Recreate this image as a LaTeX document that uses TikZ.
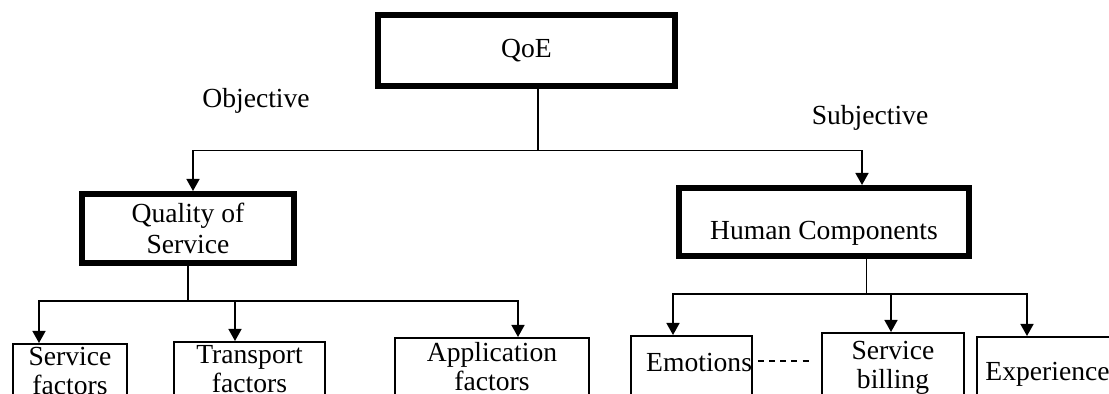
\documentclass[tikz,border=0pt]{standalone}
\usepackage{fontspec}
\setmainfont{Liberation Serif}
\usetikzlibrary{arrows.meta,positioning,calc}
\tikzset{
  thk/.style ={draw,line width=3pt,align=center,inner sep=3pt},
  thn/.style ={draw,line width=0.8pt,align=center,inner xsep=2pt,
               inner ysep=0.3pt,anchor=north,
               font=\fontsize{13.8}{14.5}\selectfont},
  lab/.style ={inner sep=1pt},
  ar/.style  ={-{Triangle[length=6pt,width=6.5pt]},line width=0.75pt},
  ln/.style  ={line width=0.75pt},
  dsh/.style ={line width=0.75pt,dash pattern=on 3pt off 2.6pt},
}

\begin{document}
\begin{tikzpicture}[x=0.5pt,y=-0.5pt,font=\fontsize{13.8}{15.5}\selectfont]
\useasboundingbox (0,0) rectangle (1109,394);
\clip (0,0) rectangle (1109,394);
% top level
\node[thk,minimum width=148.5pt,minimum height=35.5pt] (QOE) at (526.5,50.5) {QoE};
\node[lab] (OBJ) at (256,101) {Objective};
\node[lab] (SUBJ) at (870,118) {Subjective};
% second level
\node[thk,minimum width=106pt,minimum height=34.5pt] (QOS) at (188,228.5) {Quality of\\Service};
\node[thk,minimum width=145pt,minimum height=34pt,text height=20.5pt] (HUM) at (824,222) {Human Components};
% leaves
\node[thn,minimum width=57pt,minimum height=27.5pt] (SF) at (70,343) {Service\\factors};
\node[thn,minimum width=75.5pt,minimum height=27.5pt] (TF) at (249.5,341) {Transport\\factors};
\node[thn,minimum width=97pt,minimum height=29pt] (AF) at (492,337) {Application\\factors};
\node[thn,text width=60.5pt,align=right,inner xsep=0pt,minimum height=30.5pt,text depth=4pt] (EMO) at (691.5,335) {Emotions};
\node[thn,minimum width=71pt,minimum height=35pt] (SB) at (893,332) {Service\\billing};
\node[thn,minimum width=70.5pt,minimum height=37.5pt] (EXP) at (1047.5,336) {Experience};
% connectors
\coordinate (J1) at (538,150.5);
\coordinate (J2) at (188,301);
\coordinate (J3) at (866.5,294);
\coordinate (DL) at (0,361);
\draw[ln] (QOE.south -| J1) -- (J1);
\draw[ar] (J1) -| ($(QOS.north)+(5,0)$);
\draw[ar] (J1) -| ($(HUM.north)+(38,0)$);
\draw[ln] (QOS.south) -- (J2);
\draw[ar] (J2) -| ($(SF.north)+(-31,0)$);
\draw[ar] (J2) -| ($(TF.north)+(-14.5,0)$);
\draw[ar] (J2) -| ($(AF.north)+(26,0)$);
\draw[ln] (HUM.south -| J3) -- (J3);
\draw[ar] (J3) -| ($(EMO.north)+(-18.5,0)$);
\draw[ar] (J3) -| ($(SB.north)+(-2,0)$);
\draw[ar] (J3) -| ($(EXP.north)+(-20.5,0)$);
\draw[dsh,shorten <=2.5pt,shorten >=4.5pt] (EMO.east |- DL) -- (SB.west |- DL);
\end{tikzpicture}
\end{document}
